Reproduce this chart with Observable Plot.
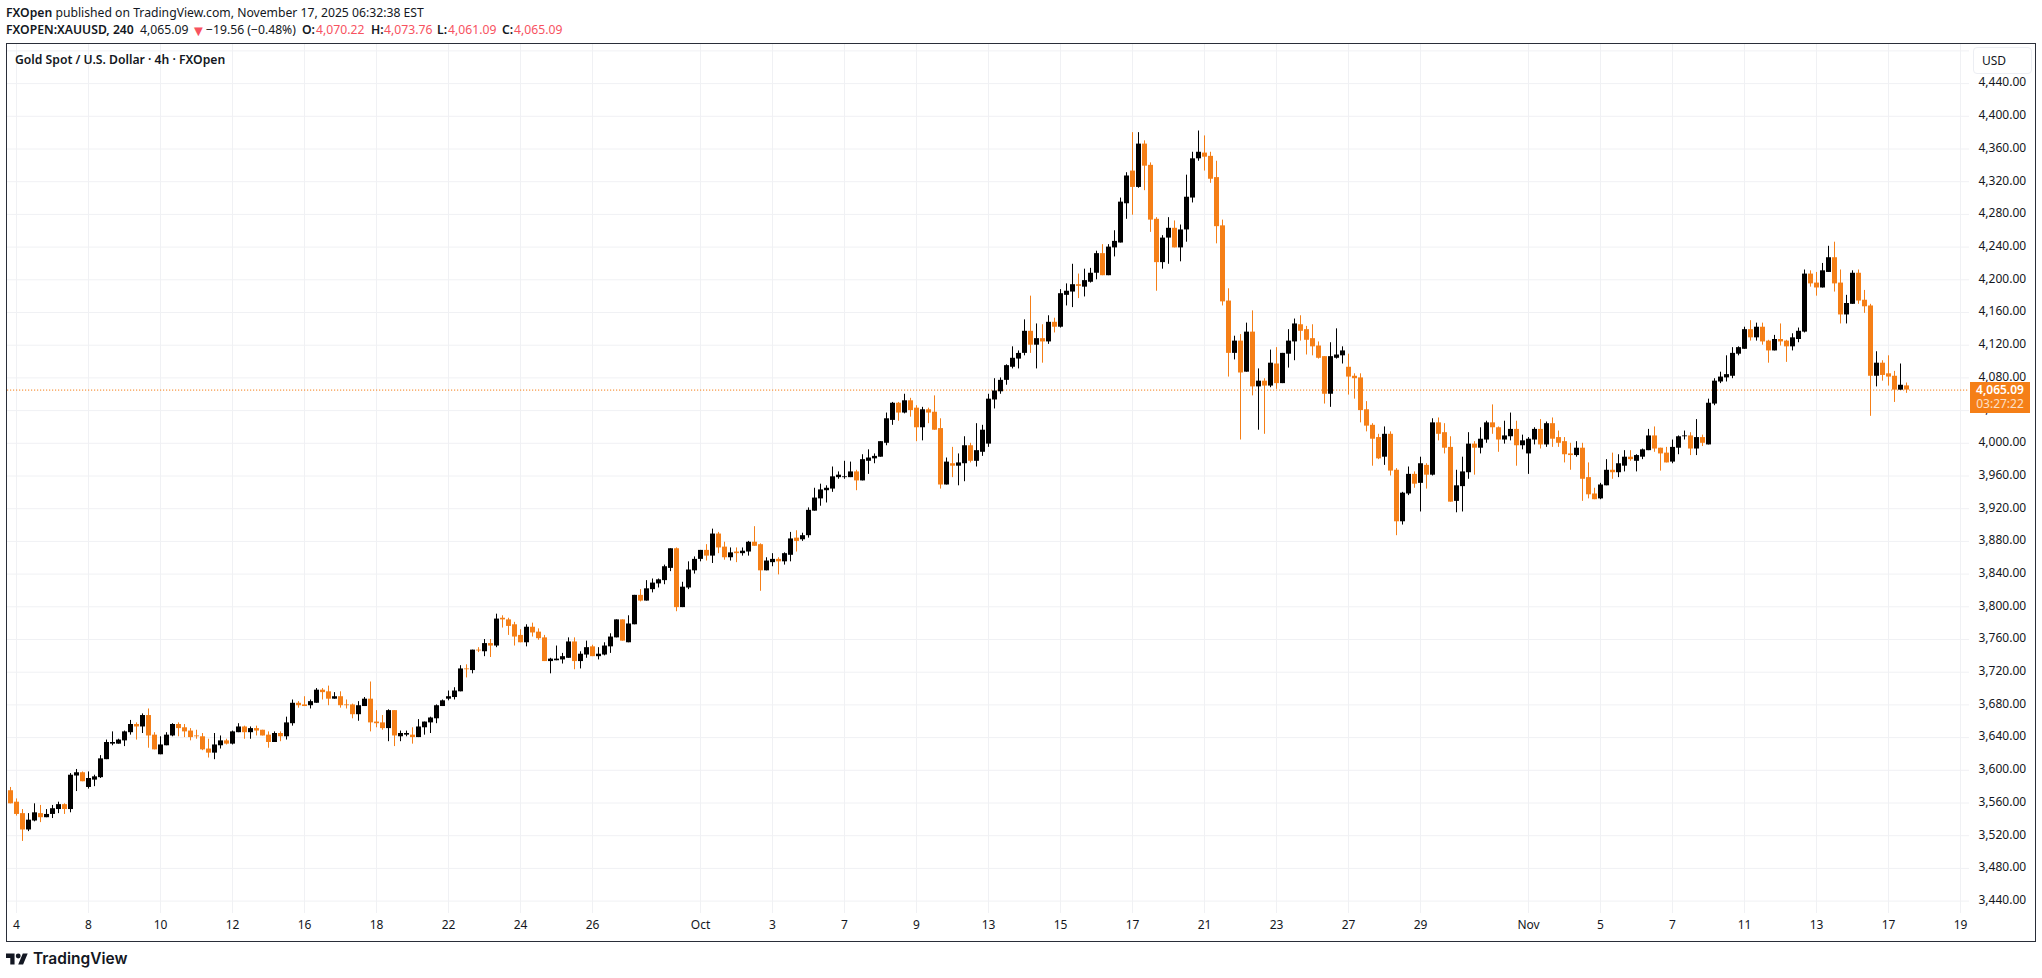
<!DOCTYPE html>
<html><head><meta charset="utf-8">
<script src="https://cdn.jsdelivr.net/npm/d3@7"></script>
<script src="https://cdn.jsdelivr.net/npm/@observablehq/plot@0.6"></script>
<style>
html,body{margin:0;padding:0;background:#fff;width:2042px;height:978px;overflow:hidden;font-family:"Noto Sans",sans-serif;color:#131722}
.abs{position:absolute;white-space:nowrap}
.hd{font-size:12.2px;left:6px;line-height:16px}
.seg{position:absolute;top:22px;font-size:12.2px;line-height:16px;white-space:nowrap}
b{font-weight:600}
.r{color:#f7525f}
#frame{position:absolute;left:6px;top:43px;width:2028px;height:897px;border:1px solid #2a2e39}
#frame svg{display:block}
</style></head><body>
<div class="abs hd" style="top:5px"><b>FXOpen</b> published on TradingView.com, November 17, 2025 06:32:38 EST</div>
<span class="seg" style="left:6px"><b>FXOPEN:XAUUSD, 240</b></span>
<span class="seg" style="left:140px">4,065.09</span>
<span class="seg r" style="left:191px;font-size:15px">▼</span>
<span class="seg" style="left:206px">−19.56 (−0.48%)</span>
<span class="seg" style="left:302px"><b>O:</b></span>
<span class="seg r" style="left:316px">4,070.22</span>
<span class="seg" style="left:371px"><b>H:</b></span>
<span class="seg r" style="left:384px">4,073.76</span>
<span class="seg" style="left:437px"><b>L:</b></span>
<span class="seg r" style="left:448px">4,061.09</span>
<span class="seg" style="left:502px"><b>C:</b></span>
<span class="seg r" style="left:514px">4,065.09</span>
<div id="frame"></div>
<div class="abs" style="left:15px;top:52px;font-size:12.2px;font-weight:600;line-height:16px">Gold Spot / U.S. Dollar · 4h · FXOpen</div>
<div class="abs" style="left:1973px;top:47px;width:57px;height:25px;border:1px solid #eceef3;border-radius:4px;background:#fff;font-size:12px;line-height:26px;box-sizing:content-box"><span style="margin-left:8px">USD</span></div>
<div class="abs" style="left:1970px;top:382px;width:60px;height:31px;background:#f57f17;color:#fff;font-size:12px;line-height:14px;text-align:center"><div style="font-weight:600;margin-top:1px">4,065.09</div><div style="opacity:.75">03:27:22</div></div>
<svg class="abs" style="left:6px;top:951px" width="22" height="15" viewBox="0 0 36 24" fill="#131722"><path d="M14 22H7V11H0V4h14v18ZM28 22h-8l7.5-18h8L28 22Z"/><circle cx="20" cy="8" r="4"/></svg>
<div class="abs" style="left:33px;top:948px;font-family:Inter,sans-serif;font-size:15.5px;font-weight:600;line-height:22px">TradingView</div>
<script>
const opens=[3575,3561,3547,3527,3538,3547,3542,3546,3552,3558,
3552,3593,3597,3579,3588,3591,3613,3632,3632,3636,
3646,3656,3653,3667,3643,3619,3630,3642,3656,3652,
3648,3642,3641,3626,3621,3630,3636,3632,3646,3653,
3646,3651,3649,3643,3634,3645,3641,3657,3682,3680,
3679,3682,3698,3696,3687,3690,3680,3680,3668,3678,
3687,3659,3658,3651,3673,3641,3643,3643,3640,3652,
3658,3663,3678,3687,3689,3696,3724,3722,3747,3745,
3755,3752,3786,3784,3778,3765,3756,3775,3769,3762,
3733,3734,3735,3737,3757,3733,3741,3751,3739,3741,
3751,3762,3784,3756,3778,3814,3807,3821,3828,3832,
3847,3871,3799,3823,3844,3858,3869,3862,3889,3873,
3860,3867,3865,3867,3879,3876,3844,3854,3858,3855,
3863,3884,3882,3887,3917,3932,3942,3944,3958,3958,
3958,3965,3954,3978,3981,3983,4000,4028,4049,4037,
4052,4043,4019,4041,4038,4018,3949,3975,3972,3975,
3997,3978,3989,3999,4053,4063,4077,4093,4103,4110,
4137,4120,4128,4124,4148,4142,4181,4185,4194,4191,
4197,4208,4232,4205,4239,4245,4293,4333,4313,4366,
4340,4274,4221,4251,4263,4239,4261,4300,4348,4355,
4351,4325,4266,4174,4110,4125,4087,4136,4069,4076,
4070,4097,4073,4109,4124,4145,4139,4128,4119,4106,
4060,4104,4107,4093,4082,4080,4041,4022,4007,3983,
4011,3967,3904,3938,3962,3951,3973,3961,4025,4013,
3995,3929,3947,3964,3999,3994,4004,4025,4019,4004,
4008,4017,3997,3987,4004,4017,3998,4024,4007,4002,
3987,3985,3994,3958,3938,3932,3948,3967,3964,3972,
3983,3978,3983,3991,4009,3994,3988,3977,3994,4008,
4009,3993,4007,3998,4048,4075,4080,4082,4109,4115,
4139,4129,4142,4125,4113,4127,4125,4118,4127,4136,
4207,4196,4190,4209,4227,4196,4157,4170,4208,4175,
4168,4082,4098,4085,4082,4065,4070.22];
const highs=[3579,3565,3552,3547,3559,3557,3552,3557,3561,3559,
3596,3601,3598,3598,3594,3618,3637,3647,3638,3648,
3661,3658,3669,3675,3646,3641,3646,3657,3658,3656,
3651,3649,3645,3638,3645,3642,3638,3648,3657,3654,
3653,3654,3649,3647,3647,3647,3665,3686,3684,3690,
3686,3700,3700,3703,3695,3696,3686,3681,3684,3689,
3708,3673,3667,3674,3673,3648,3648,3652,3662,3659,
3665,3680,3686,3697,3701,3728,3729,3747,3750,3760,
3760,3791,3789,3786,3781,3772,3778,3780,3773,3765,
3737,3752,3743,3762,3762,3745,3758,3753,3750,3756,
3767,3784,3784,3789,3814,3821,3832,3834,3834,3851,
3871,3872,3830,3855,3861,3869,3876,3895,3891,3879,
3872,3872,3872,3880,3898,3877,3860,3865,3860,3866,
3891,3893,3890,3921,3945,3950,3948,3971,3965,3978,
3977,3967,3986,3992,3987,4002,4037,4050,4050,4060,
4055,4046,4044,4043,4058,4030,3982,3995,3987,4008,
4000,4024,4022,4060,4079,4080,4096,4118,4113,4151,
4180,4146,4145,4156,4153,4188,4195,4219,4207,4213,
4214,4235,4243,4243,4260,4300,4331,4380,4380,4370,
4343,4276,4254,4276,4272,4267,4328,4356,4382,4376,
4356,4345,4273,4189,4131,4133,4147,4162,4091,4079,
4114,4117,4110,4139,4152,4156,4143,4145,4124,4106,
4123,4140,4118,4109,4085,4085,4051,4024,4011,4020,
4014,3969,3940,3971,3965,3983,3975,4030,4031,4024,
4008,3967,3983,4013,4002,4019,4027,4047,4020,4027,
4037,4027,4010,4007,4019,4029,4026,4031,4015,4007,
4000,4002,4000,3976,3945,3951,3980,3988,3986,3991,
3991,3986,3993,4017,4020,3994,3995,4004,4009,4015,
4013,4029,4010,4054,4079,4087,4107,4117,4118,4142,
4150,4147,4147,4126,4132,4146,4126,4134,4141,4212,
4211,4209,4220,4241,4246,4212,4181,4211,4212,4187,
4170,4112,4101,4107,4088,4097,4073.76];
const lows=[3559,3544,3513,3525,3537,3536,3542,3541,3547,3546,
3548,3574,3586,3577,3580,3590,3613,3630,3632,3629,
3643,3637,3645,3627,3625,3619,3630,3641,3641,3640,
3636,3638,3624,3615,3613,3626,3631,3631,3646,3638,
3638,3642,3642,3627,3634,3635,3637,3654,3676,3678,
3675,3682,3686,3679,3687,3676,3675,3663,3660,3678,
3647,3652,3649,3635,3629,3635,3641,3632,3640,3643,
3645,3657,3678,3685,3686,3696,3713,3718,3744,3739,
3738,3750,3774,3765,3752,3756,3751,3763,3759,3733,
3718,3734,3730,3737,3723,3724,3737,3739,3735,3740,
3743,3762,3758,3756,3778,3806,3807,3817,3823,3827,
3843,3794,3799,3821,3840,3855,3856,3853,3865,3857,
3856,3854,3862,3862,3874,3819,3844,3849,3839,3851,
3855,3867,3880,3884,3917,3923,3927,3940,3956,3956,
3958,3942,3954,3962,3975,3983,3997,4022,4027,4036,
4032,4002,4003,4024,4016,3944,3949,3958,3948,3953,
3976,3971,3984,3995,4042,4060,4071,4091,4091,4107,
4110,4091,4098,4121,4135,4141,4168,4166,4177,4179,
4196,4200,4205,4205,4228,4245,4274,4279,4312,4309,
4258,4186,4213,4219,4239,4222,4246,4294,4345,4333,
4318,4244,4168,4081,4102,4004,4087,4058,4016,4011,
4068,4066,4073,4092,4101,4125,4108,4107,4103,4048,
4044,4103,4097,4059,4054,4025,4014,3972,3980,3973,
3960,3887,3900,3936,3945,3916,3944,3960,4003,3987,
3928,3915,3916,3956,3961,3987,4000,4011,3989,3999,
4003,3972,3992,3962,3998,3993,3995,3995,3995,3976,
3967,3983,3929,3932,3931,3931,3948,3956,3958,3965,
3978,3965,3980,3991,3989,3966,3976,3975,3986,4004,
3985,3985,3996,3998,4046,4073,4075,4079,4107,4115,
4125,4125,4120,4098,4113,4119,4099,4113,4123,4135,
4191,4180,4190,4209,4185,4146,4146,4170,4170,4159,
4033,4069,4076,4070,4050,4065,4061.09];
const closes=[3559,3546,3527,3539,3548,3542,3546,3553,3558,3552,
3594,3597,3586,3590,3592,3614,3634,3634,3637,3647,
3656,3653,3667,3642,3625,3631,3643,3656,3651,3647,
3640,3641,3625,3621,3631,3636,3632,3647,3653,3646,
3651,3648,3642,3634,3645,3641,3658,3682,3679,3678,
3684,3698,3695,3687,3690,3679,3679,3668,3679,3687,
3658,3657,3651,3673,3642,3645,3645,3640,3653,3659,
3664,3679,3685,3690,3697,3724,3723,3747,3746,3755,
3752,3785,3784,3776,3763,3756,3775,3768,3761,3733,
3736,3736,3739,3757,3733,3742,3750,3739,3742,3752,
3763,3784,3758,3779,3814,3807,3822,3829,3833,3849,
3871,3799,3824,3845,3858,3869,3862,3889,3872,3860,
3866,3865,3868,3879,3874,3844,3856,3858,3855,3865,
3883,3880,3887,3918,3933,3943,3945,3959,3961,3959,
3965,3954,3980,3982,3984,4002,4030,4049,4037,4052,
4040,4019,4041,4037,4016,3949,3977,3972,3976,3997,
3978,3991,4016,4054,4064,4077,4095,4104,4110,4137,
4120,4128,4124,4148,4142,4183,4186,4194,4192,4199,
4208,4232,4205,4240,4247,4295,4327,4313,4366,4339,
4273,4221,4251,4263,4239,4261,4301,4348,4356,4350,
4323,4265,4173,4110,4125,4086,4136,4069,4076,4070,
4098,4073,4110,4125,4146,4137,4126,4118,4104,4060,
4106,4108,4113,4081,4079,4040,4021,4005,3981,4011,
3966,3904,3939,3962,3950,3975,3961,4025,4011,3994,
3928,3948,3965,3999,3994,4005,4025,4019,4004,4009,
4017,3997,4003,4005,4017,3998,4024,4005,4000,3986,
3985,3994,3956,3937,3931,3949,3967,3964,3975,3983,
3980,3985,3992,4009,3993,3987,3976,3995,4008,4009,
3993,4007,4000,4049,4076,4081,4084,4110,4117,4139,
4129,4142,4124,4113,4127,4124,4118,4129,4137,4207,
4195,4190,4211,4227,4195,4157,4171,4208,4174,4167,
4082,4098,4083,4081,4065,4071,4065.09];
const dateBars=[1,13,25,37,49,61,73,85,97,115,127,139,151,163,175,187,199,211,223,235,253,265,277,289,301,313,325];
const dateLabels=["4","8","10","12","16","18","22","24","26","Oct","3","7","9","13","15","17","21","23","27","29","Nov","5","7","11","13","17","19"];
const priceTicks=d3.range(3440,4441,40);
const gridPrices=d3.range(3440,4481,40);
const lastPrice=4065.09;
const upColor="#000000", downColor="#f57f17", gridColor="#f0f1f4";

const bars=opens.map((o,k)=>({k,o,h:highs[k],l:lows[k],c:closes[k]}));
const color=d=>d.c>=d.o?upColor:downColor;
const labelOf=new Map(dateBars.map((b,i)=>[b,dateLabels[i]]));

const chart=Plot.plot({
  width:2028,height:897,
  marginLeft:0,marginRight:66,marginTop:0,marginBottom:28,
  x:{type:"linear",domain:[0,325],range:[3,1953]},
  y:{type:"linear",domain:[4000,4400],range:[398.8,71.8]},
  style:{fontFamily:'"Noto Sans",sans-serif',fontSize:"12px",color:"#131722",background:"transparent",overflow:"visible"},
  marks:[
    Plot.gridX(dateBars,{stroke:gridColor,strokeOpacity:1}),
    Plot.gridY(gridPrices,{stroke:gridColor,strokeOpacity:1}),
    Plot.ruleY([lastPrice],{stroke:downColor,strokeDasharray:"1.2,1.8",strokeWidth:1}),
    Plot.ruleX(bars,{x:"k",y1:"l",y2:"h",stroke:color,strokeWidth:1}),
    Plot.ruleX(bars,{x:"k",y1:"o",y2:"c",stroke:color,strokeWidth:5}),
    Plot.axisY(priceTicks,{anchor:"right",tickSize:0,tickPadding:9,dy:-1,tickFormat:d3.format(",.2f"),label:null,fill:"#131722"}),
    Plot.axisX(dateBars,{anchor:"bottom",tickSize:0,tickPadding:7,tickFormat:d=>labelOf.get(d),label:null,fill:"#131722"})
  ]
});
document.getElementById("frame").appendChild(chart);
</script>
</body></html>
